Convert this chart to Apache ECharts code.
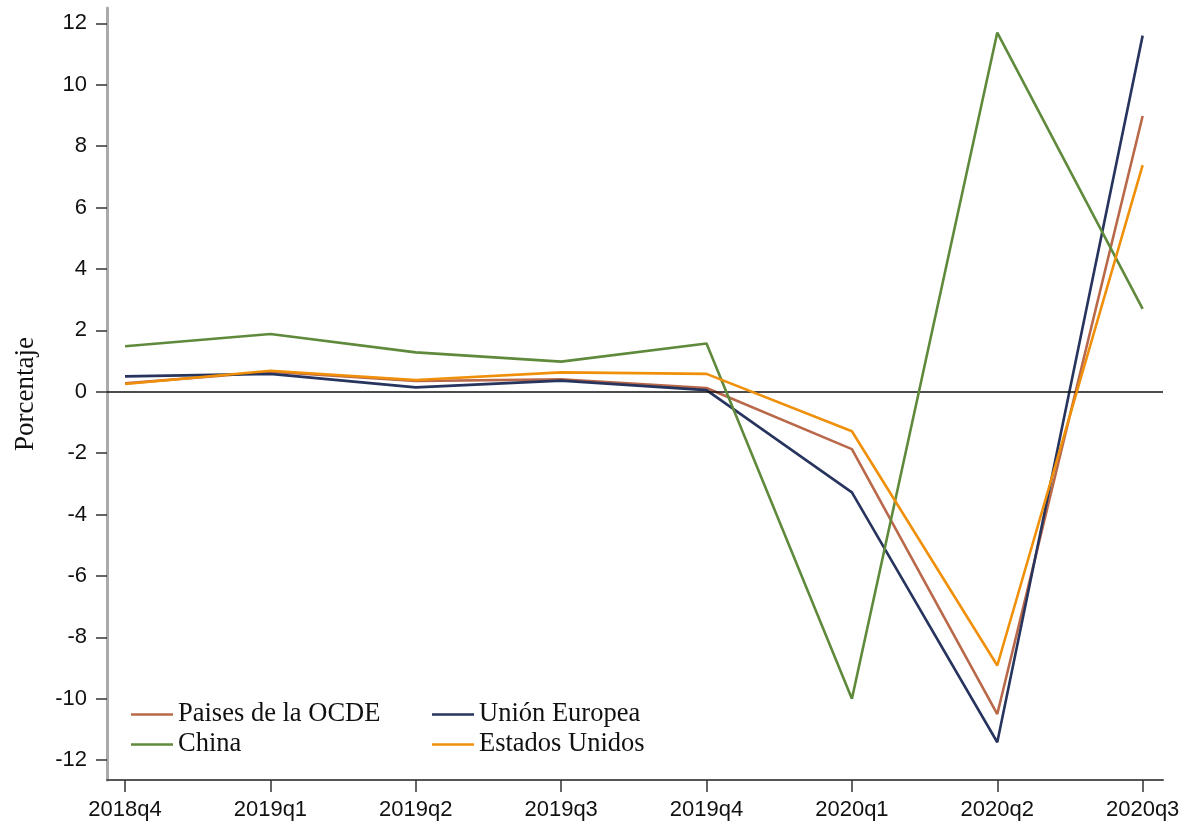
<!DOCTYPE html>
<html>
<head>
<meta charset="utf-8">
<script src="https://cdn.jsdelivr.net/npm/echarts@6/dist/echarts.min.js"></script>
<style>
html,body{margin:0;padding:0;background:#fff;}
#chart{width:1192px;height:827px;}
</style>
</head>
<body>
<div id="chart"></div>
<script>
const categories = ['2018q4','2019q1','2019q2','2019q3','2019q4','2020q1','2020q2','2020q3'];
const ocde   = [0.27, 0.65, 0.35, 0.40, 0.12, -1.87, -10.5, 8.98];
const ue     = [0.50, 0.58, 0.14, 0.36, 0.05, -3.28, -11.42, 11.6];
const china  = [1.48, 1.88, 1.28, 0.98, 1.57, -10.0, 11.7, 2.7];
const eeuu   = [0.25, 0.68, 0.38, 0.63, 0.58, -1.29, -8.92, 7.38];
const yTicks = [-12,-10,-8,-6,-4,-2,0,2,4,6,8,10,12];
const seriesNames = ['Paises de la OCDE','Unión Europea','China','Estados Unidos'];
const colors = ['#b9694a','#26345e','#5f8a3c','#f0900a'];

const toPts = arr => arr.map((v,i)=>[i,v]);
const serif = '"Liberation Serif","DejaVu Serif",serif';
const sans = '"Liberation Sans",Arial,sans-serif';

const chart = echarts.init(document.getElementById('chart'));
const dataSets = [ocde, ue, china, eeuu];
const series = dataSets.map((d,k)=>({
  name: seriesNames[k],
  type: 'line',
  data: toPts(d),
  symbol: 'none',
  lineStyle: {color: colors[k], width: 2.6},
  itemStyle: {color: colors[k]},
  z: 3 + k,
  animation: false
}));
series[0].markLine = {
  silent: true, symbol: 'none', animation: false,
  label: {show: false},
  lineStyle: {color: '#111', width: 1.6, type: 'solid'},
  data: [{yAxis: 0}]
};

chart.setOption({
  backgroundColor: '#fff',
  animation: false,
  grid: {left: 107, right: 29, top: 8, bottom: 47},
  xAxis: {
    type: 'value', min: -0.124, max: 7.14,
    axisLine: {show: true, onZero: false, lineStyle: {color: '#555', width: 2}},
    axisTick: {show: true, length: 12, customValues: categories.map((c,i)=>i), lineStyle: {color: '#333', width: 1.5}},
    axisLabel: {customValues: categories.map((c,i)=>i), formatter: v => categories[Math.round(v)], color: '#111', fontFamily: sans, fontSize: 22, margin: 19},
    splitLine: {show: false}
  },
  yAxis: {
    type: 'value', min: -12.65, max: 12.5,
    name: 'Porcentaje', nameLocation: 'middle', nameGap: 68,
    nameTextStyle: {fontFamily: serif, fontSize: 27, color: '#111'},
    axisLine: {show: true, onZero: false, lineStyle: {color: '#aaa', width: 3}},
    axisTick: {show: true, length: 11, customValues: yTicks, lineStyle: {color: '#333', width: 1.5}},
    axisLabel: {customValues: yTicks, color: '#111', fontFamily: sans, fontSize: 22, margin: 20},
    splitLine: {show: false}
  },
  legend: [
    {data: [seriesNames[0], seriesNames[2]], orient: 'vertical', left: 131, top: 701, padding: 0, itemGap: 3,
     icon: 'rect', itemWidth: 42, itemHeight: 2.5,
     textStyle: {fontFamily: serif, fontSize: 26.5, lineHeight: 26, color: '#111'}},
    {data: [seriesNames[1], seriesNames[3]], orient: 'vertical', left: 432, top: 701, padding: 0, itemGap: 3,
     icon: 'rect', itemWidth: 42, itemHeight: 2.5,
     textStyle: {fontFamily: serif, fontSize: 26.5, lineHeight: 26, color: '#111'}}
  ],
  series: series
});
</script>
</body>
</html>
